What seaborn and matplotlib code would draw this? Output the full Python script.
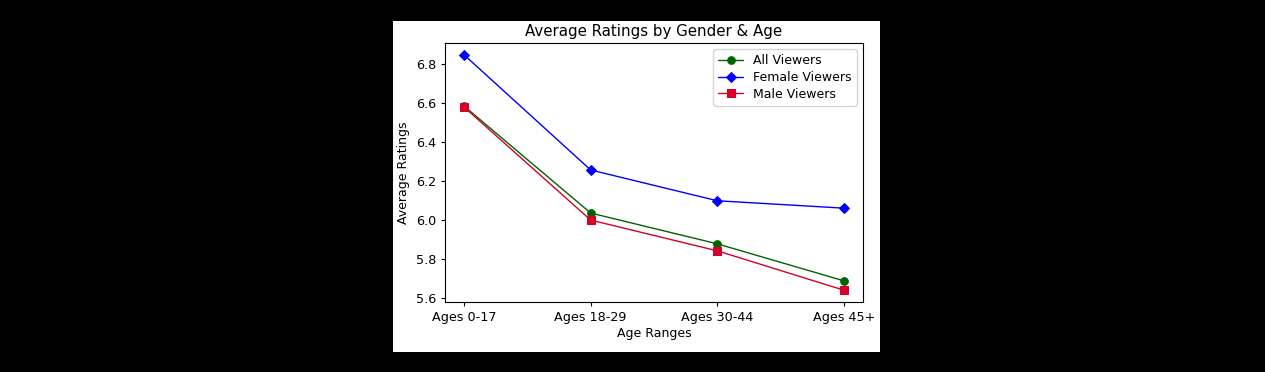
import matplotlib
matplotlib.use("Agg")
import matplotlib.pyplot as plt
import seaborn as sns
import pandas as pd
from matplotlib.patches import Rectangle

age_groups = ["Ages 0-17", "Ages 18-29", "Ages 30-44", "Ages 45+"]
all_viewers = [6.585, 6.036, 5.878, 5.688]
female_viewers = [6.848, 6.257, 6.099, 6.061]
male_viewers = [6.580, 6.000, 5.842, 5.640]

series = [
    ("All Viewers", all_viewers, "#006400", "o"),
    ("Female Viewers", female_viewers, "#0000ff", "D"),
    ("Male Viewers", male_viewers, "#d6002a", "s"),
]

sns.set_style("ticks")
plt.rcParams['font.family'] = ['DejaVu Sans']
plt.rcParams['text.color'] = 'black'
plt.rcParams['axes.labelcolor'] = 'black'
plt.rcParams['xtick.color'] = 'black'
plt.rcParams['ytick.color'] = 'black'

W, H = 1265, 372
fig = plt.figure(figsize=(W / 100, H / 100), dpi=100, facecolor="black")
# white figure panel
fig.patches.append(Rectangle((393 / W, 1 - 352 / H), (880 - 393) / W, (352 - 21) / H,
                             transform=fig.transFigure, facecolor="white",
                             edgecolor="none", zorder=-10))

left, right, top, bottom = 445, 863, 43, 302
ax = fig.add_axes([left / W, 1 - bottom / H, (right - left) / W, (bottom - top) / H])
ax.set_zorder(1)
ax.set_facecolor("white")

xs = list(range(len(age_groups)))
for name, vals, color, marker in series:
    df = pd.DataFrame({"x": xs, "y": vals})
    ms = 5.5 if marker != "D" else 5
    sns.lineplot(data=df, x="x", y="y", ax=ax, color=color, marker=marker,
                 markersize=ms, markeredgecolor=color, linewidth=1.0, label=name)

ax.set_xticks(xs)
ax.set_xticklabels(age_groups)
ax.margins(x=0.05, y=0.05)
ax.set_yticks([5.6, 5.8, 6.0, 6.2, 6.4, 6.6, 6.8])
ax.set_yticklabels(["5.6", "5.8", "6.0", "6.2", "6.4", "6.6", "6.8"])
ax.tick_params(labelsize=9.2, length=3, width=0.8, colors="black")
for s in ax.spines.values():
    s.set_visible(True)
    s.set_color("black")
    s.set_linewidth(0.8)

ax.set_title("Average Ratings by Gender & Age", fontsize=10.8, pad=5, color="black")
ax.set_xlabel("Age Ranges", fontsize=9, labelpad=2, color="black")
ax.set_ylabel("Average Ratings", fontsize=9, labelpad=4, color="black")

leg = ax.legend(loc="upper right", fontsize=9, frameon=True, handlelength=2,
                borderpad=0.4, labelspacing=0.3)
leg.get_frame().set_edgecolor("#cccccc")
for t in leg.get_texts():
    t.set_color("black")

fig.savefig("out.png", dpi=100, facecolor="black")
